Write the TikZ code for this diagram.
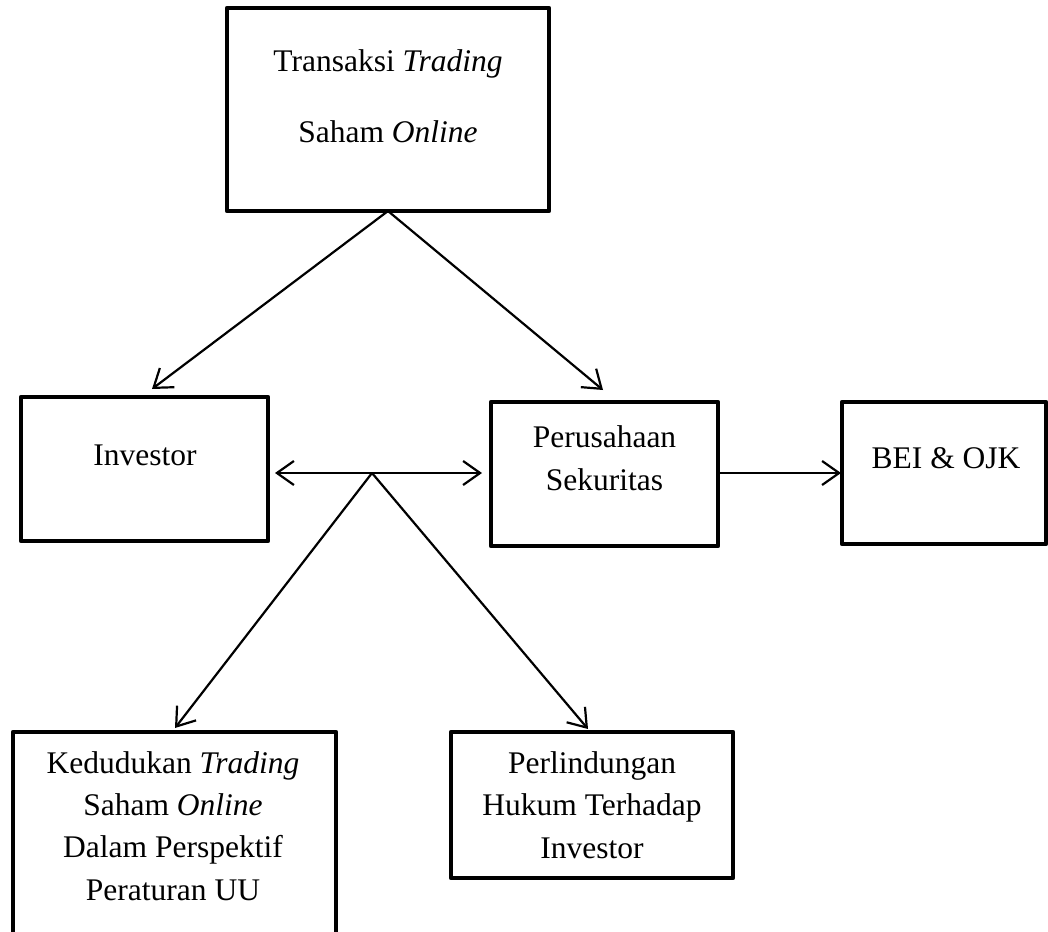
\documentclass[tikz,border=0pt]{standalone}
\usepackage{fontspec}
\setmainfont{Liberation Serif}
\usetikzlibrary{arrows.meta}
\begin{document}
\begin{tikzpicture}[x=1pt,y=-1pt,
  box/.style={draw, line width=4.8pt, inner sep=0pt, outer sep=0pt, line join=round, rectangle},
  tipA/.tip={Straight Barb[length=17pt,width=24pt]},
  conn/.style={line width=2.2pt, -tipA},
  conn2/.style={line width=2.2pt, tipA-tipA},
  txt/.style={anchor=base, inner sep=0pt, font=\fontsize{31.5}{42}\selectfont}]
\useasboundingbox (0,0) rectangle (1048,931);
\clip (0,0) rectangle (1048,931);

% boxes
\node[box, minimum width=322pt, minimum height=203pt] (top) at (388,109.5) {};
\node[box, minimum width=247pt, minimum height=144pt] (inv) at (144.5,469) {};
\node[box, minimum width=227pt, minimum height=144pt] (per) at (604.5,474) {};
\node[box, minimum width=204pt, minimum height=142pt] (bei) at (944,473) {};
\node[box, minimum width=323pt, minimum height=208pt] (ked) at (174.5,836) {};
\node[box, minimum width=282pt, minimum height=146pt] (lin) at (592,805) {};

% texts
\node[txt] (t1) at (388,72) {Transaksi \textit{Trading}};
\node[txt] (t2) at (388,142) {Saham \textit{Online}};
\node[txt] (invT) at (145,465) {Investor};
\node[txt] (perT1) at (604.5,447) {Perusahaan};
\node[txt] (perT2) at (604.5,490) {Sekuritas};
\node[txt] (beiT) at (946,468) {BEI \& OJK};
\node[txt] (kedT1) at (173,773) {Kedudukan \textit{Trading}};
\node[txt] (kedT2) at (173,815) {Saham \textit{Online}};
\node[txt] (kedT3) at (173,857.5) {Dalam Perspektif};
\node[txt] (kedT4) at (173,900) {Peraturan UU};
\node[txt] (linT1) at (592,773) {Perlindungan};
\node[txt] (linT2) at (592,815) {Hukum Terhadap};
\node[txt] (linT3) at (592,858) {Investor};

% connector points
\coordinate (invTip) at (152,389);
\coordinate (perTip) at (603,390);
\coordinate (J) at (372,473);
\coordinate (dL) at (275,473);
\coordinate (dR) at (482,473);
\coordinate (kedTip) at (175,728);
\coordinate (linTip) at (588,729);
\coordinate (beiTip) at (841,473);

% connectors
\draw[conn] (top.south) -- (invTip);
\draw[conn] (top.south) -- (perTip);
\draw[conn2] (dL) -- (dR);
\draw[conn] (J) -- (kedTip);
\draw[conn] (J) -- (linTip);
\draw[conn] (per.east |- J) -- (beiTip);
\end{tikzpicture}
\end{document}
